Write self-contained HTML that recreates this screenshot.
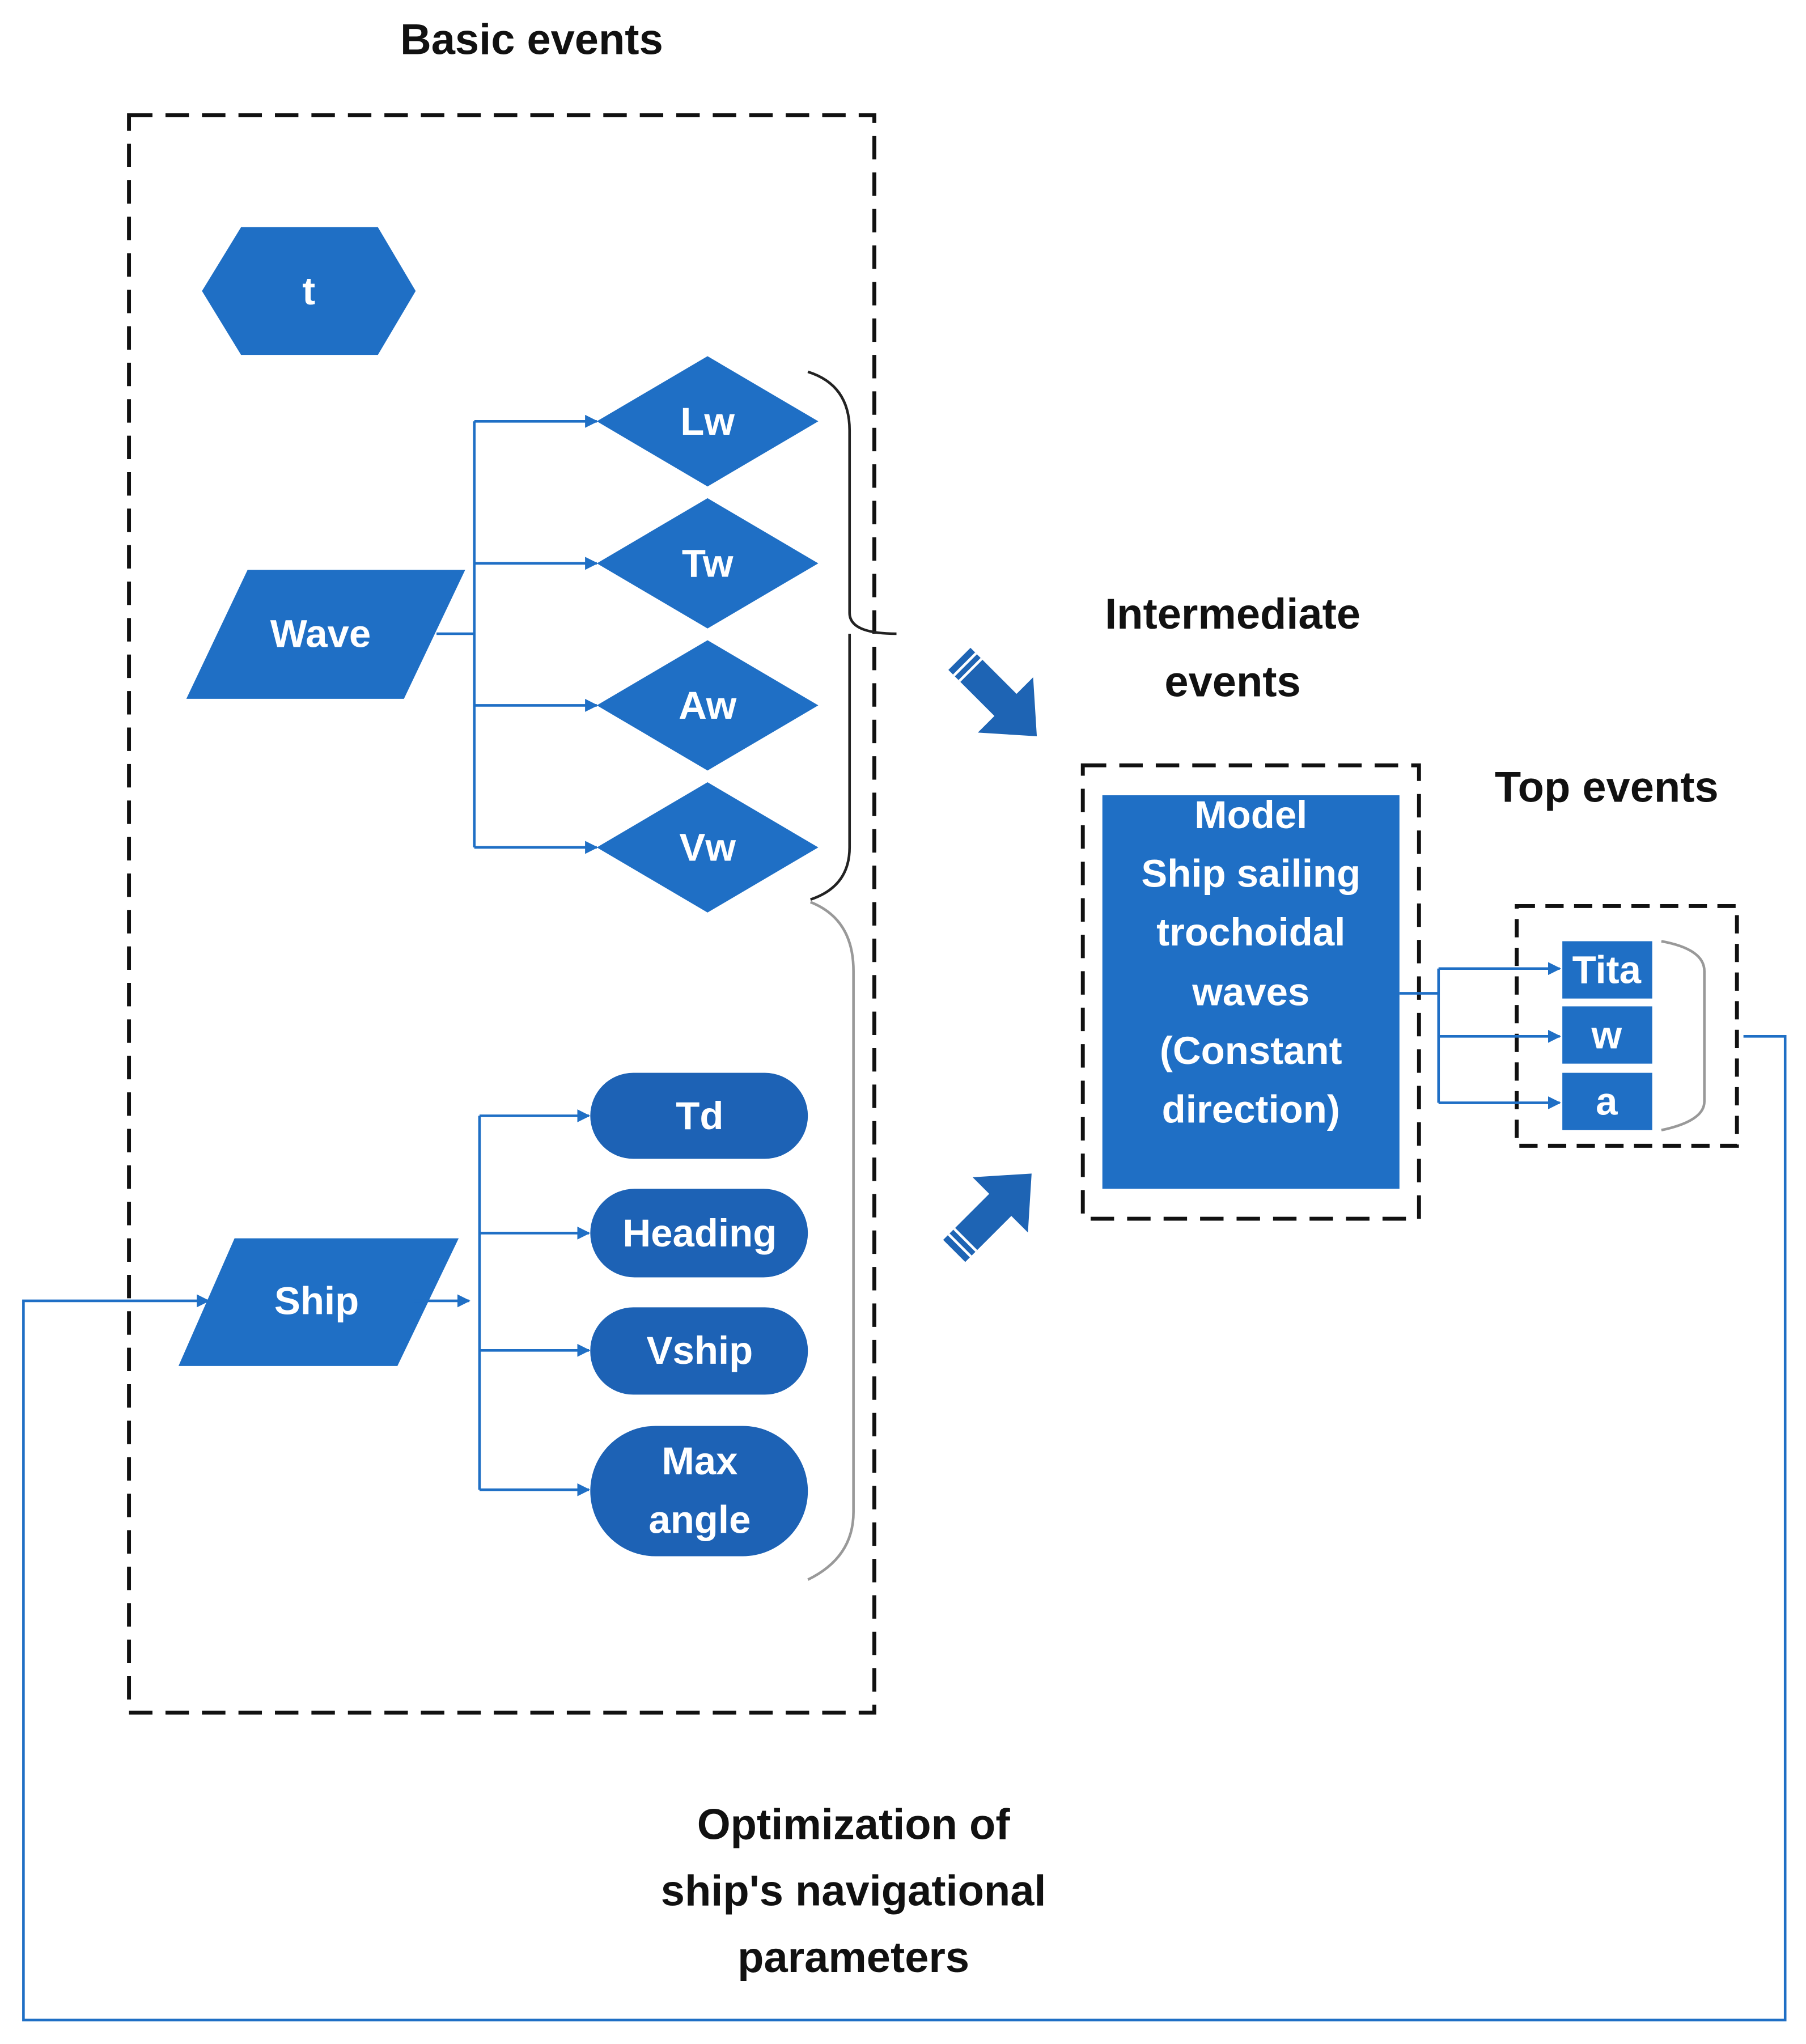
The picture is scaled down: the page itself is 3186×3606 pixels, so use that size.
<!DOCTYPE html>
<html><head><meta charset="utf-8"><style>
html,body{margin:0;padding:0;background:#fff;}
svg{display:block;}
text{font-family:"Liberation Sans",sans-serif;font-weight:bold;}
.w{fill:#fff;font-size:30px;text-anchor:middle;dominant-baseline:central;}
.k{fill:#111;font-size:33px;text-anchor:middle;dominant-baseline:central;}
</style></head><body>
<svg width="3186" height="3606" viewBox="0 0 1386 1568" xmlns="http://www.w3.org/2000/svg">
<defs>
<marker id="ar" markerWidth="10" markerHeight="10" refX="9" refY="5" orient="auto" markerUnits="userSpaceOnUse" viewBox="0 0 10 10">
<path d="M0,0 L10,5 L0,10 z" fill="#1F6FC5"/></marker>
<g id="blk"><path d="M-42,-12 L8,-12 L8,-30 L42,0 L8,30 L8,12 L-42,12 z" fill="#1E64B4"/>
<line x1="-36" y1="-12" x2="-36" y2="12" stroke="#fff" stroke-width="2"/><line x1="-30" y1="-12" x2="-30" y2="12" stroke="#fff" stroke-width="2"/></g>
</defs>
<text class="k" x="408" y="30">Basic events</text>
<rect x="99" y="88" width="572" height="1226" fill="none" stroke="#111" stroke-width="3" stroke-dasharray="18,10"/>
<polygon points="155,223 185,174 290,174 319,223 290,272 185,272" fill="#1F6FC5"/>
<text class="w" x="237" y="223">t</text>
<!-- wave -->
<polygon points="190,437 357,437 310,536 143,536" fill="#1F6FC5"/>
<text class="w" x="246" y="486">Wave</text>
<g stroke="#1F6FC5" stroke-width="2" fill="none">
<polyline points="335,486 364,486"/>
<line x1="364" y1="323" x2="364" y2="650"/>
<line x1="364" y1="323" x2="458" y2="323" marker-end="url(#ar)"/>
<line x1="364" y1="432" x2="458" y2="432" marker-end="url(#ar)"/>
<line x1="364" y1="541" x2="458" y2="541" marker-end="url(#ar)"/>
<line x1="364" y1="650" x2="458" y2="650" marker-end="url(#ar)"/>
</g>
<g fill="#1F6FC5">
<polygon points="458,323 543,273 628,323 543,373"/>
<polygon points="458,432 543,382 628,432 543,482"/>
<polygon points="458,541 543,491 628,541 543,591"/>
<polygon points="458,650 543,600 628,650 543,700"/>
</g>
<text class="w" x="543" y="323">Lw</text>
<text class="w" x="543" y="432">Tw</text>
<text class="w" x="543" y="541">Aw</text>
<text class="w" x="543" y="650">Vw</text>
<!-- braces -->
<path d="M620,285 Q652,295 652,330 L652,470 Q652,486 688,486 M652,486 Q652,486 652,500 L652,650 Q652,680 622,690" fill="none" stroke="#222" stroke-width="2"/>
<path d="M622,692 Q655,705 655,745 L655,1160 Q655,1195 620,1212" fill="none" stroke="#999" stroke-width="2"/>
<!-- ship -->
<polygon points="180,950 352,950 305,1048 137,1048" fill="#1F6FC5"/>
<text class="w" x="243" y="998">Ship</text>
<g stroke="#1F6FC5" stroke-width="2" fill="none">
<line x1="318" y1="998" x2="360" y2="998" marker-end="url(#ar)"/>
<line x1="368" y1="856" x2="368" y2="1143"/>
<line x1="368" y1="856" x2="452" y2="856" marker-end="url(#ar)"/>
<line x1="368" y1="946" x2="452" y2="946" marker-end="url(#ar)"/>
<line x1="368" y1="1036" x2="452" y2="1036" marker-end="url(#ar)"/>
<line x1="368" y1="1143" x2="452" y2="1143" marker-end="url(#ar)"/>
<polyline points="1338,795 1370,795 1370,1550 18,1550 18,998 160,998" marker-end="url(#ar)"/>
</g>
<g fill="#1D62B5">
<rect x="453" y="823" width="167" height="66" rx="33"/>
<rect x="453" y="912" width="167" height="68" rx="34"/>
<rect x="453" y="1003" width="167" height="67" rx="33"/>
<rect x="453" y="1094" width="167" height="100" rx="50"/>
</g>
<text class="w" x="537" y="856">Td</text>
<text class="w" x="537" y="946">Heading</text>
<text class="w" x="537" y="1036">Vship</text>
<text class="w" x="537" y="1121">Max</text>
<text class="w" x="537" y="1166">angle</text>
<!-- block arrows -->
<use href="#blk" transform="translate(766,535) rotate(45)"/>
<use href="#blk" transform="translate(762,930) rotate(-45)"/>
<text class="k" x="946" y="471">Intermediate</text>
<text class="k" x="946" y="523">events</text>
<rect x="831" y="587" width="258" height="348" fill="none" stroke="#111" stroke-width="3" stroke-dasharray="18,10"/>
<rect x="846" y="610" width="228" height="302" fill="#1F6FC5"/>
<g class="w">
<text class="w" x="960" y="625">Model</text>
<text class="w" x="960" y="670">Ship sailing</text>
<text class="w" x="960" y="715">trochoidal</text>
<text class="w" x="960" y="761">waves</text>
<text class="w" x="960" y="806">(Constant</text>
<text class="w" x="960" y="851">direction)</text>
</g>
<text class="k" x="1233" y="604">Top events</text>
<rect x="1164" y="695" width="169" height="184" fill="none" stroke="#111" stroke-width="3" stroke-dasharray="14,8"/>
<g stroke="#1F6FC5" stroke-width="2" fill="none">
<line x1="1074" y1="762" x2="1104" y2="762"/>
<line x1="1104" y1="743" x2="1104" y2="846"/>
<line x1="1104" y1="743" x2="1197" y2="743" marker-end="url(#ar)"/>
<line x1="1104" y1="795" x2="1197" y2="795" marker-end="url(#ar)"/>
<line x1="1104" y1="846" x2="1197" y2="846" marker-end="url(#ar)"/>
</g>
<g fill="#1F6FC5">
<rect x="1199" y="722" width="69" height="44"/>
<rect x="1199" y="772" width="69" height="44"/>
<rect x="1199" y="823" width="69" height="44"/>
</g>
<text class="w" x="1233" y="744">Tita</text>
<text class="w" x="1233" y="794">w</text>
<text class="w" x="1233" y="845">a</text>
<path d="M1275,722 Q1308,728 1308,745 L1308,845 Q1308,860 1275,867" fill="none" stroke="#999" stroke-width="2"/>
<text class="k" x="655" y="1400">Optimization of</text>
<text class="k" x="655" y="1451">ship's navigational</text>
<text class="k" x="655" y="1502">parameters</text>
</svg>
</body></html>
